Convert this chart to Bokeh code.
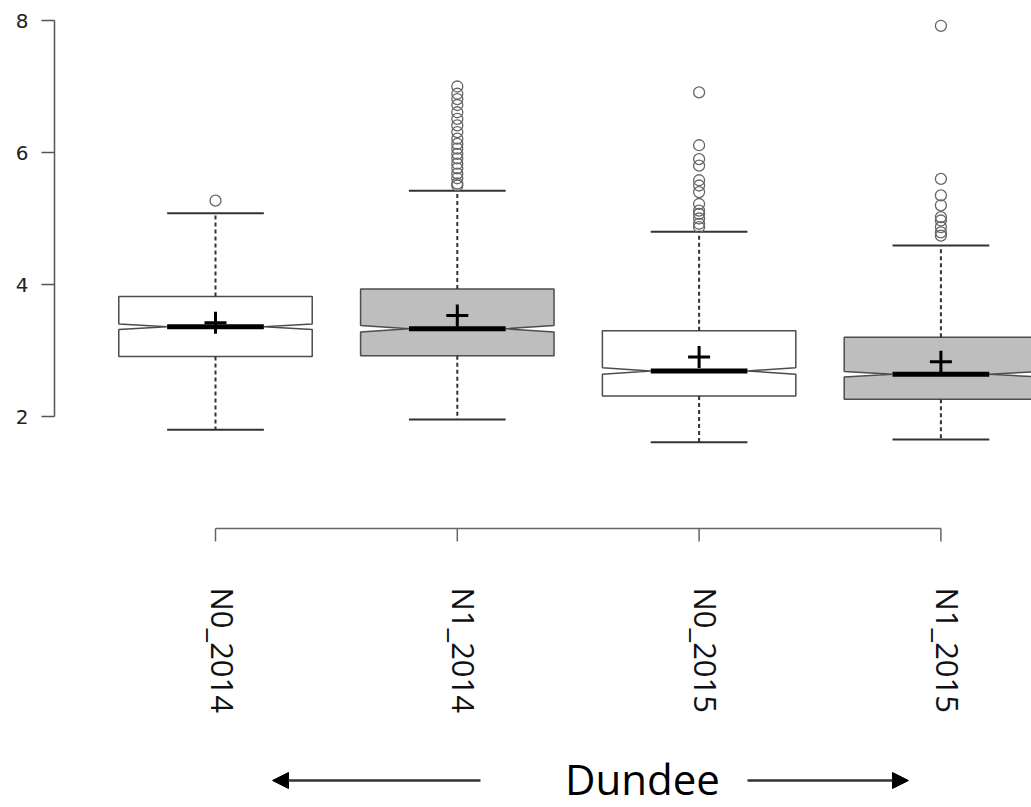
import math
from bokeh.plotting import figure
from bokeh.models import LinearAxis, FixedTicker, Range1d, Arrow, NormalHead
from bokeh.core.properties import value
from bokeh.embed import file_html
from bokeh.resources import INLINE

# ---- data ----
groups = ["N0_2014", "N1_2014", "N0_2015", "N1_2015"]
q1 = [2.91, 2.92, 2.31, 2.26]
medians = [3.36, 3.33, 2.69, 2.64]
q3 = [3.82, 3.93, 3.30, 3.20]
whisk_low = [1.80, 1.955, 1.61, 1.65]
whisk_high = [5.08, 5.42, 4.80, 4.59]
means = [3.42, 3.53, 2.90, 2.83]
notch_half = [0.04, 0.05, 0.05, 0.04]
fill_colors = ["#FFFFFF", "#BEBEBE", "#FFFFFF", "#BEBEBE"]
outliers_1 = [5.27]
outliers_2 = [7.00, 6.89, 6.81, 6.72, 6.61, 6.51, 6.41, 6.31, 6.21, 6.13, 6.06,
              5.98, 5.91, 5.83, 5.76, 5.68, 5.61, 5.53, 5.50]
outliers_3 = [6.91, 6.11, 5.90, 5.80, 5.58, 5.50, 5.40, 5.22, 5.12, 5.07, 5.00, 4.92, 4.87]
outliers_4 = [7.92, 5.60, 5.35, 5.20, 5.02, 4.97, 4.87, 4.79, 4.74]
y_ticks = [2, 4, 6, 8]
group_title = "Dundee"

# ---- layout helpers (pixel positions of decorations) ----
W, H = 1031, 807
LEFT = 54
PX_PER_X = 241.8
X0_PX = 215.0
PX_PER_Y = 66.0
Y2_PX = 416.0

def px_x(px):
    return 1 + (px - X0_PX) / PX_PER_X

def px_y(py):
    return 2 + (Y2_PX - py) / PX_PER_Y

p = figure(width=W, height=H, output_backend="svg", toolbar_location=None,
           x_axis_type=None, y_axis_type=None,
           x_range=Range1d(px_x(LEFT), px_x(W)), y_range=Range1d(px_y(H), px_y(0)),
           min_border_left=LEFT, min_border_right=0, min_border_top=0, min_border_bottom=0)
p.outline_line_color = None
p.xgrid.visible = False
p.ygrid.visible = False
p.background_fill_color = "white"
p.border_fill_color = "white"

yaxis = LinearAxis(bounds=(2, 8), ticker=FixedTicker(ticks=y_ticks),
                   major_tick_out=13, major_tick_in=0,
                   minor_tick_line_color=None,
                   axis_line_color="#555555", axis_line_width=1.5,
                   major_tick_line_color="#555555", major_tick_line_width=1.5,
                   major_label_standoff=13)
yaxis.major_label_text_font = "DejaVu Sans"
yaxis.major_label_text_font_size = "20px"
yaxis.major_label_text_color = "#222222"
p.add_layout(yaxis, "left")

xs_pos = [i + 1 for i in range(len(groups))]
bw = 0.4
nw = 0.2

# boxes with notches
pxs, pys = [], []
for x, a, m, b, n in zip(xs_pos, q1, medians, q3, notch_half):
    pxs.append([x - bw, x - bw, x - nw, x - bw, x - bw, x + bw, x + bw, x + nw, x + bw, x + bw])
    pys.append([a, m - n, m, m + n, b, b, m + n, m, m - n, a])
p.patches(pxs, pys, fill_color=fill_colors, line_color="#4d4d4d", line_width=1.5)

# whiskers
p.segment(xs_pos, q3, xs_pos, whisk_high, line_color="#333333", line_width=2, line_dash="4 3")
p.segment(xs_pos, q1, xs_pos, whisk_low, line_color="#333333", line_width=2, line_dash="4 3")
# caps
p.segment([x - nw for x in xs_pos], whisk_high, [x + nw for x in xs_pos], whisk_high,
          line_color="#333333", line_width=2)
p.segment([x - nw for x in xs_pos], whisk_low, [x + nw for x in xs_pos], whisk_low,
          line_color="#333333", line_width=2)
# medians
p.segment([x - nw for x in xs_pos], medians, [x + nw for x in xs_pos], medians,
          line_color="black", line_width=5)
# means
p.scatter(xs_pos, means, marker="cross", size=22, line_color="black", line_width=3)

# outliers
ox, oy = [], []
for x, outs in zip(xs_pos, [outliers_1, outliers_2, outliers_3, outliers_4]):
    ox += [x] * len(outs)
    oy += outs
p.scatter(ox, oy, marker="circle", size=11, fill_color=None, line_color="#666666", line_width=1.3)

# bottom group axis
axis_y = px_y(528)
tick_y = px_y(541)
p.segment([xs_pos[0]], [axis_y], [xs_pos[-1]], [axis_y], line_color="#666666", line_width=1.5)
p.segment(xs_pos, [axis_y] * 4, xs_pos, [tick_y] * 4, line_color="#666666", line_width=1.5)
label_shift = 7 / PX_PER_X
p.text([x + label_shift for x in xs_pos], [px_y(587)] * 4, text=groups, angle=-math.pi / 2,
       text_align="left", text_baseline="middle",
       text_font=value("Open Sans"), text_font_size="31px", text_color="#111111")

# Dundee label with arrows
p.text([px_x(642)], [px_y(806)], text=[group_title], text_align="center",
       text_baseline="bottom", text_font=value("Open Sans"),
       text_font_size="42px", text_color="black")
p.add_layout(Arrow(x_start=px_x(480), y_start=px_y(780), x_end=px_x(272), y_end=px_y(780),
                   line_color="#333333", line_width=2.5,
                   end=NormalHead(size=16, fill_color="black", line_color="black")))
p.add_layout(Arrow(x_start=px_x(747), y_start=px_y(780), x_end=px_x(908), y_end=px_y(780),
                   line_color="#333333", line_width=2.5,
                   end=NormalHead(size=16, fill_color="black", line_color="black")))

open("out.html", "w").write(file_html(p, INLINE))
